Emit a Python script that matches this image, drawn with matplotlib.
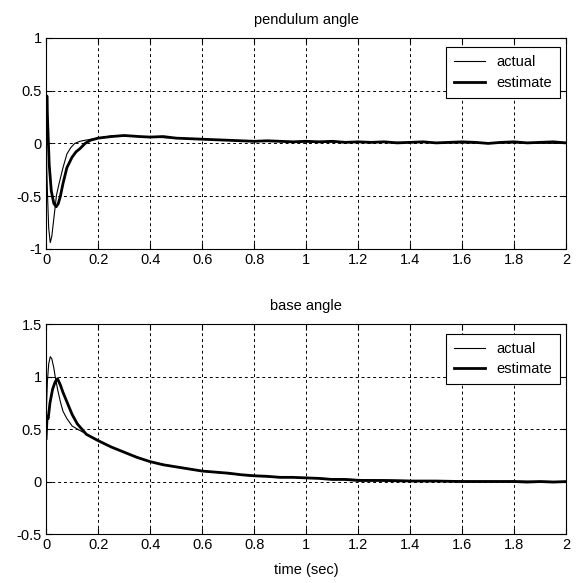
import numpy as np
import matplotlib
matplotlib.use("Agg")
import matplotlib.pyplot as plt

plt.rcParams["font.family"] = ["Liberation Sans", "DejaVu Sans"]
FS = 10.5

# pendulum angle, actual (thin)
t_pend_act = [0.0, 0.005, 0.01, 0.016, 0.022, 0.028, 0.035, 0.04, 0.05, 0.065,
              0.08, 0.095, 0.11, 0.13, 0.15, 0.2, 0.25, 0.3, 0.4, 0.5, 0.6,
              0.8, 1.0, 1.2, 1.4, 1.6, 1.8, 2.0]
y_pend_act = [0.0, -0.45, -0.8, -0.94, -0.88, -0.75, -0.6, -0.49, -0.38, -0.23,
              -0.1, -0.04, 0.0, 0.02, 0.03, 0.05, 0.07, 0.07, 0.06, 0.05, 0.04,
              0.02, 0.015, 0.01, 0.01, 0.005, 0.005, 0.0]

# pendulum angle, estimate (thick)
t_pend_est = [0.0, 0.003, 0.006, 0.012, 0.02, 0.03, 0.039, 0.047, 0.055, 0.065,
              0.08, 0.1, 0.115, 0.13, 0.15, 0.17, 0.2, 0.25, 0.3, 0.33, 0.36, 0.4,
              0.45, 0.5, 0.55, 0.6, 0.65, 0.7, 0.75, 0.8, 0.85, 0.9, 0.95,
              1.0, 1.05, 1.1, 1.15, 1.2, 1.25, 1.3, 1.35, 1.4, 1.45, 1.5,
              1.55, 1.6, 1.65, 1.7, 1.75, 1.8, 1.85, 1.9, 1.95, 2.0]
y_pend_est = [0.0, 0.45, 0.2, -0.2, -0.45, -0.57, -0.6, -0.57, -0.5, -0.38,
              -0.23, -0.13, -0.08, -0.05, 0.0, 0.03, 0.05, 0.065, 0.075, 0.07, 0.065, 0.06,
              0.065, 0.05, 0.045, 0.04, 0.035, 0.03, 0.025, 0.02, 0.025, 0.02, 0.015,
              0.02, 0.015, 0.02, 0.01, 0.015, 0.01, 0.015, 0.005, 0.01, 0.015, 0.005,
              0.01, 0.015, 0.01, 0.0, 0.01, 0.015, 0.005, 0.01, 0.015, 0.005]

# base angle, actual (thin)
t_base_act = [0.0, 0.005, 0.01, 0.016, 0.022, 0.03, 0.035, 0.045, 0.055, 0.065,
              0.08, 0.1, 0.12, 0.15, 0.18, 0.2, 0.25, 0.3, 0.4, 0.5, 0.6, 0.8,
              1.0, 1.2, 1.4, 1.6, 1.8, 2.0]
y_base_act = [0.6, 0.95, 1.12, 1.19, 1.17, 1.08, 1.0, 0.87, 0.76, 0.67,
              0.6, 0.53, 0.5, 0.46, 0.42, 0.39, 0.33, 0.28, 0.19, 0.14, 0.1, 0.05,
              0.035, 0.02, 0.01, 0.005, 0.005, 0.0]

# base angle, estimate (thick)
t_base_est = [0.0, 0.004, 0.008, 0.015, 0.025, 0.035, 0.044, 0.055, 0.065, 0.08,
              0.1, 0.12, 0.155, 0.2, 0.25, 0.3, 0.35, 0.4, 0.45, 0.5, 0.55,
              0.6, 0.65, 0.7, 0.75, 0.8, 0.85, 0.9, 0.95, 1.0, 1.05, 1.1, 1.15,
              1.2, 1.3, 1.4, 1.5, 1.6, 1.7, 1.8, 1.85, 1.9, 1.95, 2.0]
y_base_est = [0.41, 0.62, 0.6, 0.75, 0.88, 0.95, 0.98, 0.92, 0.85, 0.76,
              0.64, 0.55, 0.45, 0.39, 0.33, 0.28, 0.23, 0.19, 0.16, 0.14, 0.12,
              0.1, 0.09, 0.08, 0.065, 0.055, 0.05, 0.04, 0.04, 0.035, 0.03, 0.02, 0.02,
              0.01, 0.01, 0.005, 0.005, 0.0, 0.0, 0.0, -0.005, 0.0, -0.005, 0.0]

x_ticks = [0, 0.2, 0.4, 0.6, 0.8, 1, 1.2, 1.4, 1.6, 1.8, 2]


def style_axes(ax, yticks, ylim):
    ax.set_xlim(0, 2)
    ax.set_ylim(*ylim)
    ax.set_xticks(x_ticks)
    ax.set_xticklabels([("%g" % v) for v in x_ticks])
    ax.set_yticks(yticks)
    ax.set_yticklabels([("%g" % v) for v in yticks])
    ax.tick_params(direction="in", top=True, right=True, length=4, width=0.8,
                   labelsize=FS, pad=3)
    ax.grid(True, color="black", linestyle=(0, (3, 3)), linewidth=0.7)
    for s in ax.spines.values():
        s.set_linewidth(0.8)
    leg = ax.legend(loc="upper right", bbox_to_anchor=(0.988, 0.955),
                    borderaxespad=0, fancybox=False, framealpha=1,
                    edgecolor="black", fontsize=FS, handlelength=2.1,
                    handletextpad=0.8, borderpad=0.55, labelspacing=0.45)
    leg.get_frame().set_linewidth(0.8)


fig = plt.figure(figsize=(5.76, 5.83), dpi=100)
ax1 = fig.add_axes([0.080, 0.573, 0.903, 0.362])
ax2 = fig.add_axes([0.080, 0.084, 0.903, 0.360])

ax1.plot(t_pend_act, y_pend_act, color="black", lw=0.8, label="actual")
ax1.plot(t_pend_est, y_pend_est, color="black", lw=2.0, label="estimate")
ax1.set_title("pendulum angle", fontsize=FS, pad=10)
style_axes(ax1, [-1, -0.5, 0, 0.5, 1], (-1, 1))

ax2.plot(t_base_act, y_base_act, color="black", lw=0.8, label="actual")
ax2.plot(t_base_est, y_base_est, color="black", lw=2.0, label="estimate")
ax2.set_title("base angle", fontsize=FS, pad=10)
ax2.set_xlabel("time (sec)", fontsize=FS, labelpad=8)
style_axes(ax2, [-0.5, 0, 0.5, 1, 1.5], (-0.5, 1.5))

plt.savefig("out.png", dpi=100)
